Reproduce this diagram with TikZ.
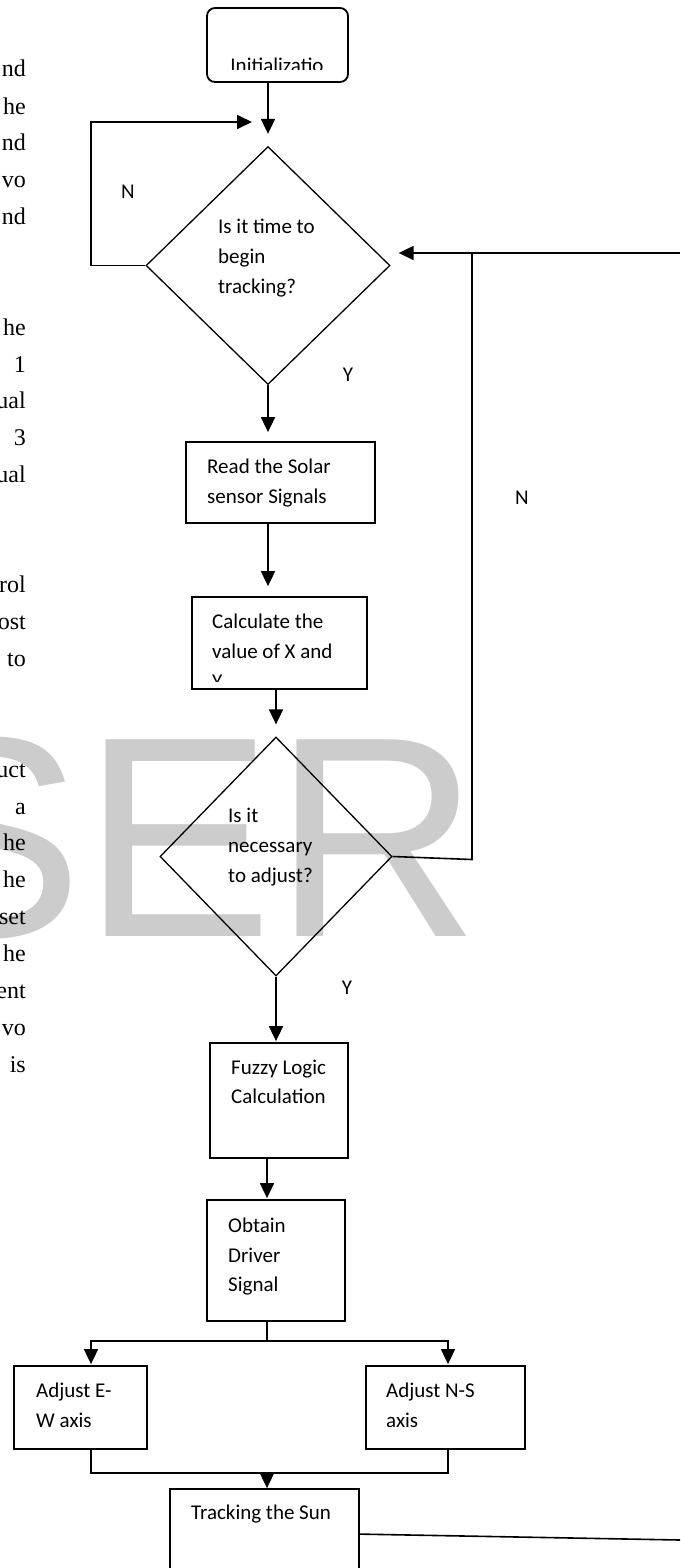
\documentclass[tikz,border=0pt]{standalone}
\usepackage{fontspec}
\setmainfont{Carlito}
\newfontfamily\pagefont{Liberation Serif}
\newfontfamily\markfont{Liberation Sans}
\usetikzlibrary{arrows.meta,shapes.geometric,calc}
\tikzset{
  x=1pt,y=-1pt,
  box/.style={draw, rectangle, line width=1.8pt, inner sep=0pt},
  rbox/.style={box, rounded corners=8pt},
  dec/.style={draw, diamond, line width=1.3pt, inner sep=0pt},
  lbl/.style={anchor=base west, inner sep=0pt, font=\fontsize{21}{21}\selectfont},
  yn/.style={inner sep=0pt, font=\fontsize{21}{21}\selectfont},
  arr/.style={line width=1.8pt, -{Triangle[length=15pt,width=14pt]}},
  ln/.style={line width=1.6pt},
  frag/.style={anchor=base east, inner sep=0pt, font=\pagefont\fontsize{24}{24}\selectfont},
}
\begin{document}
\begin{tikzpicture}
\clip (0,0) rectangle (680,1568);
\useasboundingbox (0,0) rectangle (680,1568);
% watermark
\node[anchor=base west, inner sep=0pt, text=black!20, font=\markfont\fontsize{286}{286}\selectfont] (wm) at (-108,936) {SER};
% page text fragments
\node[frag] (f1) at (26,77) {nd};
\node[frag] (f2) at (26,114) {he};
\node[frag] (f3) at (26,150) {nd};
\node[frag] (f4) at (26,187) {vo};
\node[frag] (f5) at (26,224) {nd};
\node[frag] (f6) at (26,335) {he};
\node[frag] (f7) at (26,372) {1};
\node[frag] (f8) at (26,408) {ual};
\node[frag] (f9) at (26,445) {3};
\node[frag] (f10) at (26,482) {ual};
\node[frag] (f11) at (26,592) {rol};
\node[frag] (f12) at (26,629) {ost};
\node[frag] (f13) at (26,666) {to};
\node[frag] (f14) at (26,777) {uct};
\node[frag] (f15) at (26,814) {a};
\node[frag] (f16) at (26,850) {he};
\node[frag] (f17) at (26,887) {he};
\node[frag] (f18) at (26,924) {set};
\node[frag] (f19) at (26,961) {he};
\node[frag] (f20) at (26,998) {ent};
\node[frag] (f21) at (26,1035) {vo};
\node[frag] (f22) at (26,1072) {is};
% shapes
\node[rbox, minimum width=141pt, minimum height=74pt] (init) at (277.5,45) {};
\begin{scope}
  \clip (200,40) rectangle (355,70);
  \node[anchor=base, inner sep=0pt, font=\fontsize{21}{21}\selectfont] (inittxt) at (277,73) {Initializatio};
\end{scope}
\node[dec, minimum width=244pt, minimum height=238pt] (d1) at (268,265.5) {};
\node[lbl] (t1a) at (218,233) {Is it time to};
\node[lbl] (t1b) at (218,263) {begin};
\node[lbl] (t1c) at (218,293) {tracking?};
\node[yn] (n1) at (128,192) {N};
\node[yn] (y1) at (348,375) {Y};
\node[box, minimum width=189pt, minimum height=81pt] (read) at (280.5,482.5) {};
\node[lbl] (ra) at (207,473) {Read the Solar};
\node[lbl] (rb) at (207,503) {sensor Signals};
\node[box, minimum width=175pt, minimum height=92pt] (calc) at (279.5,643) {};
\node[lbl] (ca) at (212,628) {Calculate the};
\node[lbl] (cb) at (212,658) {value of X and};
\begin{scope}
  \clip (195,600) rectangle (365,681);
  \node[lbl] (cc) at (212,688) {Y};
\end{scope}
\node[dec, minimum width=232pt, minimum height=239pt] (d2) at (276,856.5) {};
\node[lbl] (t2a) at (228,822) {Is it};
\node[lbl] (t2b) at (228,852) {necessary};
\node[lbl] (t2c) at (228,882) {to adjust?};
\node[yn] (n2) at (522,498) {N};
\node[yn] (y2) at (347,988) {Y};
\node[box, minimum width=138pt, minimum height=115pt] (fuzzy) at (279,1100.5) {};
\node[lbl] (fa) at (231,1074) {Fuzzy Logic};
\node[lbl] (fb) at (231,1103) {Calculation};
\node[box, minimum width=138pt, minimum height=121pt] (obtain) at (276,1260.5) {};
\node[lbl] (oa) at (228,1232) {Obtain};
\node[lbl] (ob) at (228,1262) {Driver};
\node[lbl] (oc) at (228,1291) {Signal};
\node[box, minimum width=133pt, minimum height=83pt] (ew) at (80.5,1407.5) {};
\node[lbl] (ea) at (36,1397) {Adjust E-};
\node[lbl] (eb) at (36,1427) {W axis};
\node[box, minimum width=159pt, minimum height=83pt] (ns) at (445.5,1407.5) {};
\node[lbl] (na) at (386,1397) {Adjust N-S};
\node[lbl] (nb) at (386,1427) {axis};
\node[box, minimum width=189pt, minimum height=111pt] (track) at (264.5,1544.5) {};
\node[lbl] (ta) at (191,1519) {Tracking the Sun};
% helper coordinates
\coordinate (lc) at (91,122);
\coordinate (rc) at (472,253);
\coordinate (edge) at (680,253);
\coordinate (sx) at (267,1341);
\coordinate (sl) at (91,1341);
\coordinate (sr) at (448,1341);
\coordinate (ml) at (91,1473);
\coordinate (mr) at (448,1473);
\coordinate (mx) at (267,1473);
\coordinate (out) at (680,1540);
% connectors
\draw[arr, shorten >=12pt] (init.south -| d1.north) -- (d1.north);
\draw[arr, shorten >=16pt] (d1.west) -- (d1.west -| lc) -- (lc) -- (lc -| d1.north);
\draw[arr, shorten >=9pt] (d1.south) -- (d1.south |- read.north);
\draw[arr, shorten >=10pt] (read.south -| d1.south) -- (d1.south |- calc.north);
\draw[arr, shorten >=12pt] (calc.south -| d2.north) -- (d2.north);
\draw[ln] (d2.east) -- ($(d2.east -| rc)+(0,3)$) -- (rc);
\draw[arr, shorten >=8pt] (edge) -- (edge -| d1.east);
\draw[arr, shorten >=1pt] (d2.south) -- (d2.south |- fuzzy.north);
\draw[arr, shorten >=1pt] (fuzzy.south -| sx) -- (obtain.north -| sx);
\draw[ln] (obtain.south -| sx) -- (sx);
\draw[arr, shorten >=1pt] (sx) -- (sl) -- (sl |- ew.north);
\draw[arr, shorten >=1pt] (sx) -- (sr) -- (sr |- ns.north);
\draw[ln] (ml |- ew.south) -- (ml) -- (mr) -- (mr |- ns.south);
\draw[arr] (mx) -- (mx |- track.north);
\draw[ln] ($(track.north east)+(0,46)$) -- (out);
\end{tikzpicture}
\end{document}
